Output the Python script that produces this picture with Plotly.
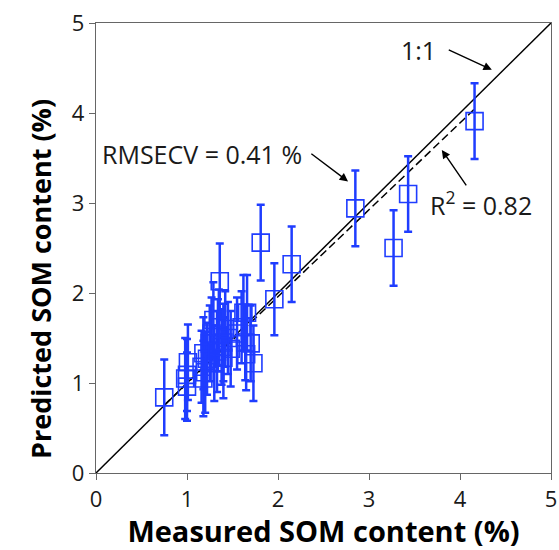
import plotly.graph_objects as go

# Data
measured = [0.75, 1.00, 1.00, 1.01, 0.98, 1.16, 1.18, 1.18, 1.20, 1.22,
            1.25, 1.27, 1.29, 1.30, 1.33, 1.34, 1.35, 1.36, 1.38, 1.40,
            1.40, 1.42, 1.45, 1.48, 1.55, 1.60, 1.62, 1.64, 1.65, 1.66,
            1.70, 1.73, 1.81, 1.96, 2.15, 2.85, 3.27, 3.43, 4.16]
predicted = [0.84, 0.96, 1.09, 1.23, 1.05, 1.18, 1.05, 1.33, 1.12, 1.27,
             1.44, 1.55, 1.70, 1.22, 1.35, 1.53, 1.62, 2.13, 1.40, 1.45,
             1.28, 1.60, 1.50, 1.38, 1.55, 1.62, 1.78, 1.45, 1.32, 1.78,
             1.44, 1.22, 2.56, 1.93, 2.32, 2.94, 2.50, 3.10, 3.91]
errors = [0.42, 0.38, 0.40, 0.42, 0.45, 0.40, 0.42, 0.40, 0.45, 0.40,
          0.42, 0.40, 0.42, 0.42, 0.45, 0.40, 0.42, 0.42, 0.42, 0.43,
          0.45, 0.42, 0.40, 0.42, 0.40, 0.40, 0.42, 0.42, 0.40, 0.42,
          0.42, 0.42, 0.42, 0.40, 0.42, 0.42, 0.42, 0.42, 0.42]

axis_ticks = [0, 1, 2, 3, 4, 5]
identity_x = [0, 5]
fit_slope = 0.965
fit_intercept = 0.03
fit_x = [min(measured), max(measured)]
fit_y = [fit_slope * v + fit_intercept for v in fit_x]

BLUE = "#1f3dff"
FONT = "Open Sans"
TXT = "#1a1a1a"

fig = go.Figure()

fig.add_trace(go.Scatter(
    x=identity_x, y=identity_x, mode="lines",
    line=dict(color="black", width=1.5), showlegend=False, hoverinfo="skip"))

fig.add_trace(go.Scatter(
    x=fit_x, y=fit_y, mode="lines",
    line=dict(color="black", width=1.5, dash="8px,4px"), showlegend=False, hoverinfo="skip"))

fig.add_trace(go.Scatter(
    x=measured, y=predicted, mode="markers",
    marker=dict(symbol="square-open", size=17, color=BLUE, line=dict(width=1.6, color=BLUE)),
    error_y=dict(type="data", array=errors, visible=True, color=BLUE, thickness=2.5, width=4),
    showlegend=False))

arrow = dict(showarrow=True, arrowhead=2, arrowsize=1.2, arrowwidth=1.4, arrowcolor="black",
             xref="x", yref="y", axref="x", ayref="y")
fig.update_layout(annotations=[
    dict(x=4.35, y=4.48, ax=3.86, ay=4.71, text="", **arrow),
    dict(x=3.54, y=4.70, text="1:1", showarrow=False, xref="x", yref="y",
         font=dict(size=25, color=TXT, family=FONT)),
    dict(x=2.77, y=3.24, ax=2.35, ay=3.56, text="", **arrow),
    dict(x=1.16, y=3.54, text="RMSECV = 0.41 %", showarrow=False, xref="x", yref="y",
         font=dict(size=25, color=TXT, family=FONT)),
    dict(x=3.80, y=3.59, ax=4.08, ay=3.18, text="", **arrow),
    dict(x=4.23, y=3.00, text="R<sup>2</sup> = 0.82", showarrow=False, xref="x", yref="y",
         font=dict(size=25, color=TXT, family=FONT)),
    dict(x=-0.167, y=0.43, xref="paper", yref="paper", textangle=-90, showarrow=False,
         text="<b>Predicted SOM content (%)</b>",
         font=dict(size=27, color="black", family=FONT)),
])

axis_common = dict(
    range=[0, 5], tickvals=axis_ticks, showgrid=False, zeroline=False,
    showline=True, linecolor="#666", linewidth=1.3, mirror=True,
    ticks="outside", ticklen=6, tickcolor="#666", tickwidth=1.3,
    tickfont=dict(size=22, color=TXT, family=FONT), automargin=False,
)

fig.update_xaxes(**axis_common,
                 title=dict(text="<b>Measured SOM content (%)</b>", standoff=0,
                            font=dict(size=29, color="black", family=FONT)))
fig.update_yaxes(**axis_common)

fig.update_layout(
    width=559, height=550,
    margin=dict(l=96, r=8, t=23, b=77),
    plot_bgcolor="white", paper_bgcolor="white",
)

fig.write_html("out.html", config={"displayModeBar": False},
               post_script="document.body.style.margin='0px';")
